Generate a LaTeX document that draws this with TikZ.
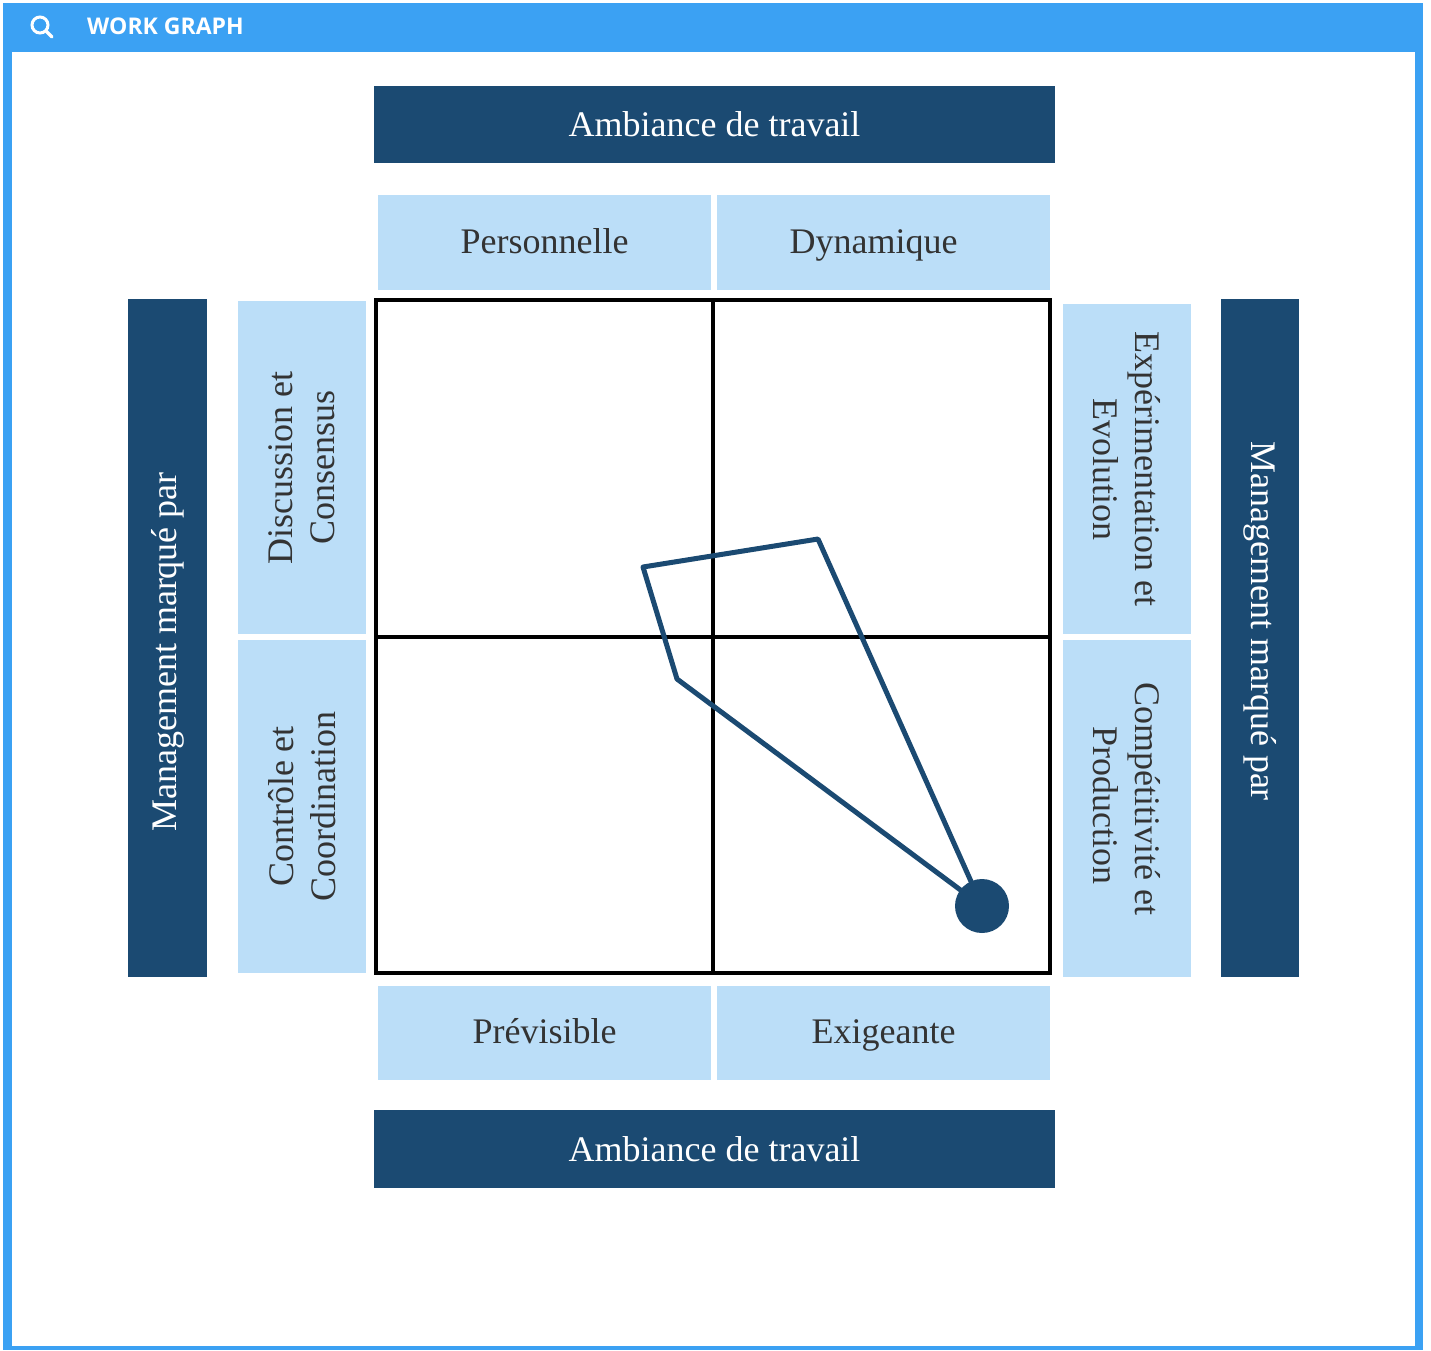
\documentclass[tikz,border=0pt]{standalone}
\usepackage{fontspec}
\setmainfont{Liberation Serif}
\newfontfamily\headfont{Open Sans}
\definecolor{head}{RGB}{59,161,243}
\definecolor{navy}{RGB}{27,74,114}
\definecolor{pale}{RGB}{187,222,248}
\definecolor{ink}{RGB}{51,51,51}
\begin{document}
\begin{tikzpicture}[x=1pt,y=-1pt,
    dark/.style = {fill=navy, text=white, inner sep=0pt, align=center, font=\fontsize{36}{42}\selectfont},
    light/.style = {fill=pale, text=ink, inner sep=0pt, align=center, font=\fontsize{36}{42}\selectfont},
    oneline/.style = {text height=29pt, text depth=8pt},
    trace/.style = {draw=navy, line width=5pt, line join=round}]
        \useasboundingbox (0,0) rectangle (1431,1350);
        \fill[head] (3,3) rectangle (1423,1350);
        \fill[white] (12,52) rectangle (1415,1346);
        \draw[white, line width=3pt] (40,25) circle (8pt);
        \draw[white, line width=3.5pt, line cap=round] (46,31) -- (52,37);
        \node[anchor=west, text=white, inner sep=0pt, font=\headfont\bfseries\fontsize{23}{27}\selectfont] (title) at (87,26) {WORK GRAPH};

        \node[dark, minimum width=681pt, minimum height=77pt] (amb1) at (714.5,124.5) {Ambiance de travail};
        \node[light, oneline, minimum width=333pt, minimum height=95pt] (pers) at (544.5,242.5) {Personnelle};
        \node[light, oneline, minimum width=333pt, minimum height=95pt] (dyn) at (883.5,242.5) {Dynamique\hspace*{20pt}};

        \node[light, oneline, minimum width=333pt, minimum height=94pt] (prev) at (544.5,1033) {Prévisible};
        \node[light, oneline, minimum width=333pt, minimum height=94pt] (exig) at (883.5,1033) {Exigeante};
        \node[dark, minimum width=681pt, minimum height=78pt] (amb2) at (714.5,1149) {Ambiance de travail};

        \node[dark, rotate=90, minimum width=678pt, minimum height=79pt] (mgl) at (167.5,638) {Management marqué par\hspace*{28pt}};
        \node[light, rotate=90, minimum width=333pt, minimum height=128pt] (disc) at (302,467.5) {Discussion et\\Consensus};
        \node[light, rotate=90, minimum width=333pt, minimum height=128pt] (ctrl) at (302,806.5) {Contrôle et\\Coordination};

        \node[light, rotate=-90, minimum width=330pt, minimum height=128pt] (expe) at (1127,469) {Expérimentation et\\Evolution};
        \node[light, rotate=-90, minimum width=337pt, minimum height=128pt] (comp) at (1127,808.5) {Compétitivité et\hspace*{19pt}\\Production\hspace*{7pt}};
        \node[dark, rotate=-90, minimum width=678pt, minimum height=78pt] (mgr) at (1260,638) {Management marqué par\hspace*{34pt}};

        \node[draw, line width=4pt, minimum width=674pt, minimum height=673pt] (grid) at (713,636.5) {};
        \draw[line width=4pt] (grid.north) -- (grid.south);
        \draw[line width=4pt] (grid.west) -- (grid.east);

        \coordinate (p1) at (643,567);
        \coordinate (p2) at (818,539);
        \coordinate (p3) at (677,679);
        \node[circle, fill=navy, inner sep=0pt, minimum size=54pt] (pt) at (982,906) {};
        \draw[trace] (p1) -- (p2) -- (pt.center) -- (p3) -- cycle;
\end{tikzpicture}
\end{document}
